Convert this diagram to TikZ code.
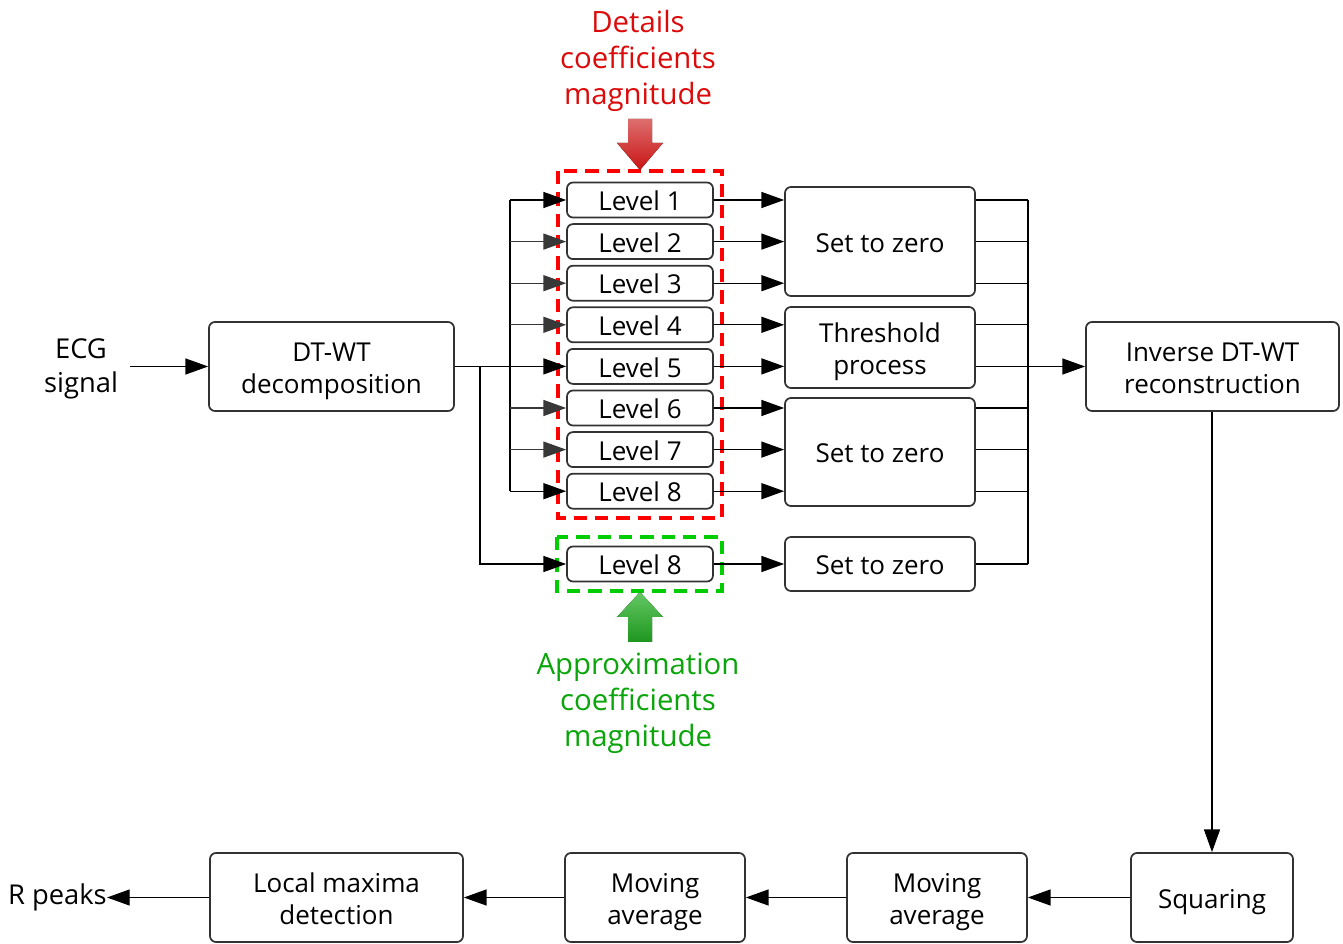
\documentclass[tikz,border=0pt]{standalone}
\usepackage{fontspec}
\setmainfont{Open Sans}
\usetikzlibrary{arrows.meta,calc}
\definecolor{redt}{RGB}{220,10,10}
\definecolor{greent}{RGB}{10,165,10}
\definecolor{redd}{RGB}{255,0,0}
\definecolor{greend}{RGB}{0,205,0}
\definecolor{boxc}{RGB}{50,50,50}
\newcommand\btx[1]{\raisebox{-3.2pt}[\height][\depth]{\begin{tabular}{@{}c@{}}#1\end{tabular}}}
\tikzset{
  box/.style={draw=boxc, line width=1.3pt, rounded corners=4.5pt, fill=white, inner sep=0pt, font=\fontsize{19.5}{24}\selectfont},
  lvl/.style={box, minimum width=109.5pt, minimum height=26.25pt},
  arr/.style={line width=0.85pt, -{Triangle[length=17pt,width=12pt]}},
  garr/.style={arr, draw=black!78},
  ln/.style={line width=0.85pt},
  lbl/.style={align=center, inner sep=0pt, font=\fontsize{20.5}{25}\selectfont},
  hl/.style={align=center, inner sep=0pt, font=\fontsize{22}{27}\selectfont},
}
\begin{document}
\begin{tikzpicture}[x=0.75pt,y=-0.75pt]
\useasboundingbox (0,0) rectangle (1343,944);
% dashed groups
\draw[redd, line width=2.3pt, dash pattern=on 10pt off 6pt] (558,171) rectangle (722,518);
\draw[greend, line width=2.3pt, dash pattern=on 10pt off 6pt] (557,537) rectangle (722,591);
% block arrows
\fill[top color={rgb,255:red,222;green,110;blue,110}, bottom color={rgb,255:red,200;green,20;blue,20}]
  (628,119) -- (652,119) -- (652,143) -- (663,143) -- (640,170) -- (617,143) -- (628,143) -- cycle;
\fill[top color={rgb,255:red,100;green,200;blue,100}, bottom color={rgb,255:red,30;green,150;blue,30}]
  (640,592) -- (663,617) -- (652,617) -- (652,642) -- (628,642) -- (628,617) -- (617,617) -- cycle;
% headings
\node[hl, text=redt] (det) at (638,61) {Details\\coefficients\\magnitude};
\node[hl, text=greent] (app) at (638,703) {Approximation\\coefficients\\magnitude};
% nodes
\node[lbl] (ecg) at (81,369) {ECG\\signal};
\node[box, minimum width=183.75pt, minimum height=66.75pt] (dt) at (331.5,366.5) {\btx{DT-WT\\decomposition}};
\foreach \i in {1,...,8}{
  \node[lvl] (L\i) at (640,{200+(\i-1)*41.6}) {\btx{Level \i}};
}
\node[lvl] (A8) at (640,564) {\btx{Level 8}};
\node[box, minimum width=142.5pt, minimum height=81.75pt] (S1) at (880,241.5) {\btx{Set to zero}};
\node[box, minimum width=142.5pt, minimum height=60.75pt] (T) at (880,347.5) {\btx{Threshold\\process}};
\node[box, minimum width=142.5pt, minimum height=81pt] (S2) at (880,452) {\btx{Set to zero}};
\node[box, minimum width=142.5pt, minimum height=40.5pt] (S3) at (880,564) {\btx{Set to zero}};
\node[box, minimum width=189.75pt, minimum height=66.75pt] (inv) at (1212.5,366.5) {\btx{Inverse DT-WT\\reconstruction}};
\node[box, minimum width=121.5pt, minimum height=66.75pt] (sq) at (1212,897.5) {\btx{Squaring}};
\node[box, minimum width=135pt, minimum height=66.75pt] (ma2) at (937,897.5) {\btx{Moving\\average}};
\node[box, minimum width=135pt, minimum height=66.75pt] (ma1) at (655,897.5) {\btx{Moving\\average}};
\node[box, minimum width=189.75pt, minimum height=66.75pt] (lm) at (336.5,897.5) {\btx{Local maxima\\detection}};
\node[lbl, anchor=east] (rp) at (107,897) {R peaks};
\coordinate (bx) at (510,0);
\coordinate (gx) at (480,0);
\coordinate (rx) at (1028,0);
% input
\draw[arr] ([xshift=9pt]ecg.east |- dt) -- (dt.west);
% fan out
\draw[arr] (dt.east |- L5) -- (L5.west);
\draw[ln] (bx |- L1) -- (bx |- L8);
\draw[arr] (bx |- L1) -- (L1.west);
\draw[garr] (bx |- L2) -- (L2.west);
\draw[garr] (bx |- L3) -- (L3.west);
\draw[garr] (bx |- L4) -- (L4.west);
\draw[garr] (bx |- L6) -- (L6.west);
\draw[garr] (bx |- L7) -- (L7.west);
\draw[arr] (bx |- L8) -- (L8.west);
\draw[arr] (gx |- L5) |- (A8.west);
% level to process boxes
\foreach \i/\b in {1/S1,2/S1,3/S1,4/T,5/T,6/S2,7/S2,8/S2}{
  \draw[arr] (L\i.east) -- (L\i.east -| \b.west);
}
\draw[arr] (A8.east) -- (S3.west);
% collect
\foreach \i/\b in {1/S1,2/S1,3/S1,4/T,6/S2,7/S2,8/S2}{
  \draw[ln] (L\i -| \b.east) -- (L\i -| rx);
}
\draw[ln] (S3.east) -- (A8 -| rx);
\draw[ln] (L1 -| rx) -- (A8 -| rx);
\draw[arr] (T.east |- inv) -- (inv.west);
% bottom chain
\draw[arr] (inv.south -| sq) -- (sq.north);
\draw[arr] (sq.west) -- (ma2.east);
\draw[arr] (ma2.west) -- (ma1.east);
\draw[arr] (ma1.west) -- (lm.east);
\draw[arr] (lm.west) -- (lm.west -| rp.east);
\end{tikzpicture}
\end{document}
